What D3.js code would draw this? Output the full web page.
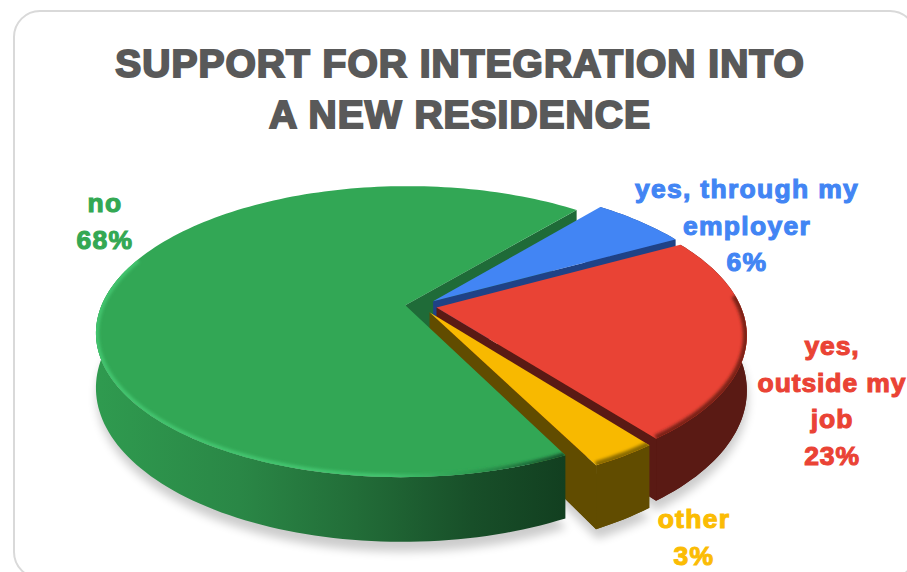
<!DOCTYPE html>
<html><head><meta charset="utf-8">
<script src="https://cdn.jsdelivr.net/npm/d3@7"></script>
<style>html,body{margin:0;padding:0;background:#fff;overflow:hidden}svg{display:block}
text{font-family:"Liberation Sans",Arial,sans-serif;font-weight:700;text-anchor:middle;paint-order:stroke}</style>
</head><body><div id="c"></div>
<script>
const titleLines = ["SUPPORT FOR INTEGRATION INTO", "A NEW RESIDENCE"];
const categories = ["yes, through my employer", "yes, outside my job", "other", "no"];
const values = [6, 22.6, 3, 68.4];
const labelLines = [["yes, through my","employer","6%"],["yes,","outside my","job","23%"],["other","3%"],["no","68%"]];
const labelColors = ["#4285f4","#ea4335","#fbbc04","#34a853"];
const topColors = ["#4285f4","#e94335","#f8b900","#32a755"];
const wallColors = ["#1f4286","#5a1a14","#614c00","#1b5c30"];

const W=907,H=572;
const svg=d3.select("#c").append("svg").attr("width",W).attr("height",H);
const defs=svg.append("defs");
const addBlur=(id,s)=>defs.append("filter").attr("id",id).attr("x","-20%").attr("y","-20%").attr("width","140%").attr("height","140%")
  .append("feGaussianBlur").attr("stdDeviation",s);
addBlur("shadow",5); addBlur("rim",1.8);

// chart frame
svg.append("rect").attr("x",14).attr("y",11).attr("width",902).attr("height",567).attr("rx",26)
  .attr("fill","#fff").attr("stroke","#d9d9d9").attr("stroke-width",2);

// title
svg.selectAll("text.title").data(titleLines).join("text").attr("class","title")
  .attr("x",460).attr("y",(d,i)=>[77,128][i]).attr("font-size",39)
  .attr("fill","#595959").attr("stroke","#595959").attr("stroke-width",2).attr("letter-spacing",1.0).text(d=>d);

// perspective disc
const k=0.182, depth=53, explode=0.052;
const xS=d3.scaleLinear().domain([-1,1]).range([421-304,421+304]);
const yS=d3.scaleLinear().domain([-1,1]).range([306-141,306+141]);
const project=(u,v,z)=>{const s=1/(1-k*v);return [xS(u*s),yS(v*s)+depth*z*s];};
const line=d3.line();
const deg=Math.PI/180;
const pie=d3.pie().sort(null).startAngle(39.5*deg).endAngle(399.5*deg);
const arcs=pie(values).map((a,i)=>{
  const mid=(a.startAngle+a.endAngle)/2;
  return {...a,i,ox:explode*Math.sin(mid),oy:-explode*Math.cos(mid)};
});
const pt=(a,ang,r,z)=>project(a.ox+r*Math.sin(ang),a.oy-r*Math.cos(ang),z);
const arcPts=(a,z,from=a.startAngle,to=a.endAngle)=>{
  const n=Math.max(8,Math.ceil((to-from)/(1.5*deg)));
  return d3.range(n+1).map(j=>pt(a,from+(to-from)*j/n,1,z));
};
const slicePts=(a,z)=>[pt(a,0,0,z),...arcPts(a,z)];
const band=(p,q)=>line([...p,...q.slice().reverse()])+"Z";

// green wall gradient
const gw=defs.append("linearGradient").attr("id","greenWall").attr("gradientUnits","userSpaceOnUse")
  .attr("x1",100).attr("x2",565).attr("y1",0).attr("y2",0);
[[0,"#2f9a4f"],[.3,"#2a8746"],[.55,"#226d38"],[.8,"#184f29"],[1,"#123f20"]].forEach(s=>gw.append("stop").attr("offset",s[0]).attr("stop-color",s[1]));
const gr=defs.append("linearGradient").attr("id","greenRim").attr("gradientUnits","userSpaceOnUse")
  .attr("x1",100).attr("x2",565).attr("y1",0).attr("y2",0);
[[0,"#42c46e"],[.62,"#42c46e"],[.8,"#2c9a50"],[1,"#15502b"]].forEach(s=>gr.append("stop").attr("offset",s[0]).attr("stop-color",s[1]));
const wallFill=a=>a.i===3?"url(#greenWall)":wallColors[a.i];
const rimStroke=[null,"#7c2219","#8a6a00","url(#greenRim)"];
// the bevel only catches the light on the part of the rim facing the viewer
const rimFrom=[null,85*deg,null,null];
const rimTo=[null,null,null,290*deg];

// soft ground shadow
const sh=svg.append("g").attr("filter","url(#shadow)").attr("fill","#000").attr("opacity",.2);
arcs.forEach(a=>sh.append("path").attr("d",line(slicePts(a,1.12).map(p=>[p[0]+1,p[1]+2]))+"Z"));

const drawTop=(a)=>{
  const g=svg.append("g");
  const id="clip"+a.i;
  defs.append("clipPath").attr("id",id).append("path").attr("d",line(slicePts(a,0))+"Z");
  g.append("path").attr("d",line(slicePts(a,0))+"Z").attr("fill",topColors[a.i]);
  if(!rimStroke[a.i])return;
  const rim=g.append("g").attr("clip-path",`url(#${id})`);
  rim.append("path").attr("d",line(arcPts(a,0,rimFrom[a.i]||a.startAngle,rimTo[a.i]||a.endAngle))).attr("fill","none")
    .attr("stroke",rimStroke[a.i]).attr("stroke-width",a.i===3?6:8).attr("filter","url(#rim)");
};
const cutWall=(a,ang)=>svg.append("path").attr("d",band([pt(a,0,0,0),pt(a,ang,1,0)],[pt(a,0,0,1),pt(a,ang,1,1)])).attr("fill",wallFill(a));
const outerWall=(a)=>{
  svg.append("path").attr("d",line(slicePts(a,1))+"Z").attr("fill",wallFill(a));
  svg.append("path").attr("d",band(arcPts(a,0),arcPts(a,1))).attr("fill",wallFill(a));
};

const [blue,red,yellow,green]=arcs;
// green's exposed cut face, behind everything else
svg.append("path").attr("d",band([pt(green,0,0,0),pt(green,green.endAngle,1,0)],[pt(green,0,0,1),pt(green,green.endAngle,1,1)])).attr("fill","#1f6b38");
// back to front
outerWall(blue); cutWall(blue,blue.endAngle); drawTop(blue);
outerWall(red); cutWall(red,red.endAngle); drawTop(red);
outerWall(yellow); cutWall(yellow,yellow.endAngle); drawTop(yellow);
// only the front part of green's wall is seen
svg.append("path").attr("d",band(arcPts(green,0,green.startAngle,285*deg),arcPts(green,1,green.startAngle,285*deg))).attr("fill",wallFill(green));
drawTop(green);

// labels
const labelPos=[[747,198],[832,355],[694,528],[105,212]];
const labelSpacing=[1.3,.9,1.3,1.3];
arcs.forEach(a=>{
  svg.selectAll(null).data(labelLines[a.i]).join("text")
    .attr("x",labelPos[a.i][0]).attr("y",(d,j)=>labelPos[a.i][1]+j*36.5)
    .attr("font-size",26.5).attr("fill",labelColors[a.i]).attr("stroke",labelColors[a.i]).attr("stroke-width",1.1)
    .attr("letter-spacing",labelSpacing[a.i]).text(d=>d);
});
</script></body></html>
